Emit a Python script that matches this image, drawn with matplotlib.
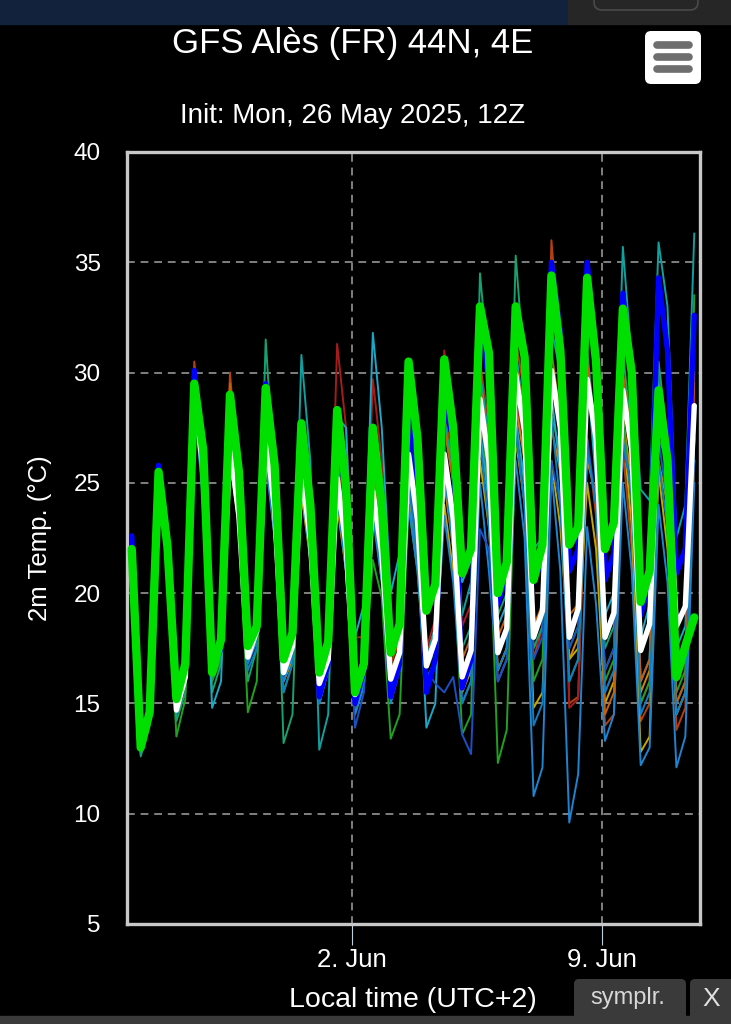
import datetime as dt
import matplotlib
matplotlib.use('Agg')
import matplotlib.pyplot as plt
import matplotlib.dates as mdates
from matplotlib.patches import FancyBboxPatch, Rectangle

plt.rcParams['font.family'] = ['Liberation Sans', 'DejaVu Sans']

# --- data: 6-hourly, first value at 26 May 20:00 local (18Z) ---
start = dt.datetime(2025, 5, 26, 20)
times = [start + dt.timedelta(hours=6 * i) for i in range(64)]

# thick lines (one row = 20h, 02h, 08h, 14h local)
green_run = [
    22.0, 13.0, 14.6, 25.5,
    22.1, 15.2, 16.8, 29.5,
    26.5, 16.4, 17.9, 29.0,
    25.5, 17.6, 18.5, 29.3,
    25.8, 17.0, 18.2, 27.7,
    24.0, 16.4, 17.8, 28.3,
    24.8, 15.5, 16.8, 27.5,
    24.0, 17.3, 18.6, 30.5,
    27.0, 19.2, 20.4, 30.6,
    27.5, 20.9, 22.0, 33.0,
    30.9, 20.0, 21.4, 33.0,
    30.7, 20.6, 22.2, 34.4,
    31.0, 22.2, 23.0, 34.3,
    30.5, 22.0, 23.2, 32.9,
    30.0, 19.6, 21.0, 29.2,
    26.0, 16.2, 17.6, 18.9,
]
ens_mean = [
    22.0, 13.3, 14.6, 25.3,
    21.9, 14.7, 16.2, 29.2,
    25.5, 16.9, 17.8, 26.7,
    23.5, 17.1, 18.3, 27.2,
    23.8, 16.4, 17.6, 25.6,
    22.4, 15.9, 17.0, 25.2,
    22.2, 15.4, 16.6, 24.6,
    21.8, 16.1, 17.3, 26.3,
    23.3, 16.7, 17.9, 26.3,
    23.4, 16.2, 17.4, 28.8,
    26.0, 17.3, 18.4, 29.9,
    27.3, 18.0, 19.2, 30.1,
    27.5, 18.0, 19.3, 29.7,
    27.0, 18.0, 19.1, 29.2,
    26.5, 17.4, 18.6, 29.0,
    26.0, 18.5, 19.4, 28.5,
]
control = [
    22.6, 13.0, 14.5, 25.8,
    22.0, 15.0, 16.5, 30.1,
    26.0, 16.5, 17.5, 29.0,
    25.0, 17.3, 18.3, 29.5,
    24.5, 16.8, 17.8, 27.0,
    23.5, 15.3, 16.8, 27.8,
    24.0, 15.0, 16.5, 27.0,
    24.0, 15.3, 16.8, 28.0,
    24.5, 15.5, 17.0, 28.6,
    27.0, 15.7, 17.0, 32.5,
    29.5, 19.5, 20.8, 33.0,
    30.5, 20.5, 21.5, 35.0,
    31.8, 21.0, 22.0, 35.0,
    31.0, 20.6, 21.8, 33.6,
    29.5, 19.0, 20.5, 34.3,
    31.0, 20.9, 22.0, 32.6,
]

# thin ensemble members
mem_rust = [
    22.2, 13.1, 14.7, 25.4,  22.6, 15.4, 16.9, 30.5,  26.8, 16.2, 17.5, 30.0,  25.0, 17.0, 18.0, 28.0,
    24.0, 16.0, 17.0, 26.5,  23.0, 15.8, 17.2, 27.0,  23.5, 15.6, 16.8, 26.0,  22.5, 16.8, 17.8, 28.0,
    25.0, 17.2, 18.5, 28.5,  25.5, 15.8, 16.8, 30.5,  27.5, 16.5, 17.5, 31.5,  29.0, 17.0, 18.5, 36.0,
    31.0, 15.0, 15.3, 27.0,  23.5, 14.0, 14.5, 26.5,  22.0, 14.2, 15.0, 30.0,  26.0, 13.8, 14.8, 29.5,
]
mem_darkred = [
    21.8, 13.4, 14.9, 25.0,  21.5, 15.5, 17.2, 29.8,  25.0, 17.0, 18.0, 28.0,  24.0, 17.5, 18.5, 28.5,
    23.5, 16.8, 18.0, 27.0,  23.0, 16.5, 17.5, 31.3,  27.5, 18.0, 18.0, 29.7,  26.0, 16.2, 17.0, 28.5,
    25.0, 17.5, 18.8, 31.0,  27.0, 18.5, 19.5, 30.0,  27.5, 16.0, 17.0, 29.0,  26.0, 17.5, 18.0, 30.0,
    28.0, 14.8, 15.2, 29.5,  26.0, 15.5, 16.5, 30.0,  26.5, 15.0, 16.0, 29.5,  26.0, 14.5, 15.5, 29.0,
]
mem_orange = [
    21.9, 13.3, 14.8, 25.2,  21.6, 14.9, 16.4, 29.0,  25.0, 16.8, 17.6, 27.0,  24.0, 17.2, 18.2, 27.0,
    23.0, 16.2, 17.3, 25.0,  22.0, 15.8, 17.0, 24.5,  21.5, 15.2, 16.5, 25.5,  22.0, 16.0, 17.2, 25.5,
    22.5, 17.0, 18.0, 25.0,  22.0, 16.5, 17.5, 28.0,  25.5, 17.5, 18.5, 28.5,  26.0, 18.0, 19.0, 27.5,
    25.5, 17.0, 18.0, 26.0,  24.5, 16.5, 17.5, 28.0,  25.0, 15.5, 16.5, 26.0,  24.0, 16.0, 17.0, 27.0,
]
mem_yellow = [
    22.1, 13.2, 14.6, 25.1,  21.7, 14.8, 16.0, 28.8,  24.8, 16.6, 17.3, 26.0,  23.0, 17.0, 18.0, 26.5,
    22.5, 16.0, 17.0, 24.5,  21.5, 15.5, 16.8, 24.0,  21.0, 15.0, 16.2, 24.0,  20.5, 15.8, 16.8, 24.5,
    21.5, 16.0, 17.0, 24.0,  21.0, 15.5, 16.5, 26.0,  23.0, 16.5, 17.5, 27.0,  24.0, 14.8, 15.5, 26.0,
    23.0, 17.0, 17.5, 25.0,  22.0, 15.0, 16.0, 27.5,  23.0, 12.8, 13.5, 25.5,  22.0, 14.5, 15.5, 26.0,
]
mem_green = [
    21.7, 12.7, 14.2, 25.0,  21.5, 13.5, 15.2, 29.0,  24.5, 16.0, 17.0, 27.5,  23.0, 14.6, 16.0, 28.0,
    23.5, 15.5, 16.8, 26.0,  22.5, 15.0, 16.5, 26.5,  21.5, 14.5, 15.8, 21.5,  19.8, 13.4, 14.5, 24.0,
    21.0, 15.5, 16.8, 27.0,  22.0, 13.6, 14.5, 29.0,  24.0, 12.3, 13.8, 27.0,  25.0, 16.0, 17.0, 28.0,
    26.5, 17.5, 18.5, 29.0,  27.0, 16.0, 17.0, 28.0,  24.0, 15.0, 16.0, 27.0,  26.0, 15.5, 16.5, 33.5,
]
mem_tealgreen = [
    22.0, 12.6, 14.0, 25.2,  21.8, 14.2, 15.5, 29.3,  25.5, 15.5, 16.8, 28.5,  24.5, 16.0, 17.5, 31.5,
    25.0, 13.2, 14.5, 26.0,  22.0, 15.5, 17.0, 26.0,  22.5, 15.0, 16.5, 26.5,  23.0, 15.5, 16.8, 27.0,
    23.5, 16.5, 17.5, 27.5,  26.0, 17.5, 18.5, 34.5,  30.0, 19.0, 20.0, 35.3,  30.0, 17.5, 18.5, 30.0,
    27.0, 16.0, 17.0, 31.0,  27.0, 17.5, 18.5, 31.0,  27.0, 16.0, 17.0, 30.5,  27.0, 15.0, 16.0, 31.0,
]
mem_teal = [
    22.3, 12.8, 14.3, 25.6,  22.3, 14.5, 16.0, 29.5,  26.0, 16.5, 17.5, 29.0,  25.0, 17.4, 18.6, 29.0,
    26.5, 16.0, 17.2, 30.8,  26.0, 12.9, 14.5, 27.5,  24.0, 16.0, 17.0, 27.0,  23.0, 16.5, 17.5, 27.5,
    24.0, 17.0, 18.5, 28.0,  25.0, 19.0, 20.5, 30.0,  27.0, 19.5, 21.0, 31.0,  28.0, 22.0, 22.5, 32.0,
    30.0, 21.0, 22.0, 33.0,  31.0, 22.0, 22.5, 35.7,  30.5, 24.7, 24.2, 35.9,  33.0, 22.5, 24.0, 36.3,
]
mem_cyan = [
    22.2, 13.0, 14.5, 25.3,  22.0, 14.8, 16.2, 29.0,  24.0, 14.8, 16.0, 27.0,  24.5, 17.0, 18.0, 28.0,
    23.0, 16.5, 17.5, 26.0,  23.5, 16.0, 17.5, 28.0,  27.5, 18.0, 19.5, 31.8,  27.5, 20.0, 21.8, 26.0,
    22.0, 13.9, 15.0, 26.0,  22.5, 20.5, 21.5, 27.5,  24.0, 18.5, 19.5, 28.0,  25.0, 18.0, 19.5, 29.0,
    25.5, 18.5, 19.0, 30.0,  25.0, 19.0, 20.0, 29.0,  26.0, 18.0, 19.5, 29.5,  25.5, 17.5, 18.5, 28.0,
]
mem_lightblue = [
    21.9, 13.1, 14.6, 25.0,  21.6, 14.6, 16.0, 28.5,  24.5, 16.5, 17.3, 26.5,  23.0, 16.8, 17.8, 26.0,
    22.5, 16.0, 17.2, 25.0,  21.5, 15.0, 16.5, 24.5,  21.0, 14.5, 15.8, 23.5,  20.5, 15.0, 16.5, 24.0,
    21.0, 16.0, 17.0, 23.5,  20.5, 15.0, 16.0, 25.0,  21.0, 16.0, 17.0, 26.0,  22.5, 10.8, 12.1, 25.5,
    21.0, 9.6, 11.8, 23.0,   19.5, 13.3, 14.5, 25.0,  21.0, 12.2, 13.0, 24.0,  20.5, 12.1, 13.5, 25.0,
]
mem_darkblue = [
    22.0, 13.2, 14.6, 25.2,  21.8, 14.8, 16.2, 29.0,  25.0, 16.8, 17.6, 26.5,  23.5, 17.0, 18.2, 27.0,
    23.5, 16.2, 17.4, 25.5,  22.0, 15.5, 16.8, 25.0,  22.0, 13.9, 15.5, 24.0,  21.5, 16.0, 17.0, 25.5,
    22.0, 16.5, 15.9, 15.5,  16.2, 13.6, 12.7, 22.9,  22.0, 16.0, 17.0, 27.5,  24.0, 17.0, 18.0, 26.0,
    24.0, 17.5, 18.5, 27.0,  24.0, 16.5, 17.5, 26.5,  25.0, 16.0, 17.0, 27.0,  24.0, 16.5, 17.5, 26.0,
]
mem_burnt = [
    22.1, 13.0, 14.5, 25.5,  22.2, 15.2, 16.6, 29.6,  26.0, 17.0, 17.8, 29.5,  24.5, 17.3, 18.4, 28.0,
    24.0, 17.0, 18.0, 26.0,  23.0, 16.0, 17.2, 26.5,  23.0, 15.5, 17.0, 27.0,  23.0, 16.5, 17.5, 27.0,
    24.0, 17.0, 18.0, 27.5,  25.0, 17.0, 18.0, 29.5,  26.5, 18.0, 19.0, 30.5,  28.0, 18.5, 19.5, 31.0,
    28.0, 19.0, 19.5, 30.5,  27.0, 14.5, 15.5, 30.0,  27.0, 16.0, 17.0, 28.5,  26.0, 15.0, 16.0, 30.0,
]
mem_blue2 = [
    22.0, 13.0, 14.4, 25.1,  21.7, 14.6, 16.0, 28.8,  24.8, 16.4, 17.2, 26.0,  23.2, 16.5, 17.5, 26.5,
    22.8, 15.5, 16.8, 25.0,  21.5, 15.0, 16.5, 24.5,  21.0, 15.0, 16.0, 24.5,  21.0, 15.5, 16.5, 25.0,
    21.5, 16.0, 17.0, 25.5,  22.0, 15.0, 16.0, 27.0,  23.0, 16.5, 17.5, 27.5,  24.0, 14.0, 15.0, 28.0,
    24.0, 16.0, 17.0, 26.5,  24.0, 15.5, 16.5, 27.0,  24.5, 14.5, 15.5, 26.0,  23.0, 14.5, 15.5, 27.0,
]

members = [mem_rust, mem_darkred, mem_orange, mem_yellow, mem_green, mem_tealgreen,
           mem_teal, mem_cyan, mem_lightblue, mem_darkblue, mem_burnt, mem_blue2]
member_colors = ['#b5400f', '#a51c1c', '#d4820a', '#c8a600', '#21a121', '#17a070',
                 '#11a0a0', '#1ba8c6', '#1f84cf', '#1a50c2', '#c2600e', '#0f7fc0']

xticks = [dt.datetime(2025, 6, 2), dt.datetime(2025, 6, 9)]
yticks = [5, 10, 15, 20, 25, 30, 35, 40]

W, H = 731, 1024
fig = plt.figure(figsize=(W / 100, H / 100), dpi=100, facecolor='black')

ax = fig.add_axes([127 / W, 1 - 924 / H, 573 / W, 772 / H])
ax.set_facecolor('black')

for vals, col in zip(members, member_colors):
    ax.plot(times, vals, color=col, lw=1.4, zorder=2)
ax.plot(times, control, color='#0000ff', lw=3.8, zorder=3,
        solid_joinstyle='round', solid_capstyle='round')
ax.plot(times, ens_mean, color='white', lw=3.9, zorder=4,
        solid_joinstyle='round', solid_capstyle='round')
ax.plot(times, green_run, color='#00e000', lw=6.0, zorder=5,
        solid_joinstyle='round', solid_capstyle='round')

ax.set_xlim(dt.datetime(2025, 5, 26, 16, 48), dt.datetime(2025, 6, 11, 17, 51))
ax.set_ylim(5, 40)
ax.set_xticks(xticks)
ax.xaxis.set_major_formatter(mdates.DateFormatter('%-d. %b'))
ax.set_yticks(yticks)
ax.grid(True, color='#808080', linestyle=(0, (4, 3)), linewidth=1.4, zorder=1)
ax.set_axisbelow(True)

for s in ax.spines.values():
    s.set_color('#c8c8c8')
    s.set_linewidth(2.4)
ax.tick_params(axis='x', colors='white', labelsize=18.5, length=15, width=0.8,
               pad=2, color='#c0cfe0')
ax.tick_params(axis='y', colors='white', labelsize=17.5, length=0, pad=19)
ax.set_ylabel('2m Temp. (°C)', color='white', fontsize=18.5)
ax.yaxis.set_label_coords(-(127 - 52) / 573, 0.5)

fig.text(353 / W, 1 - 44 / H, 'GFS Alès (FR) 44N, 4E', color='white',
         fontsize=25, ha='center', va='center')
fig.text(353 / W, 1 - 116 / H, 'Init: Mon, 26 May 2025, 12Z', color='white',
         fontsize=20, ha='center', va='center')
fig.text(413 / W, 1 - 1000 / H, 'Local time (UTC+2)', color='white',
         fontsize=20.5, ha='center', va='center')

# page chrome in pixel coordinates
ov = fig.add_axes([0, 0, 1, 1], zorder=10)
ov.set_xlim(0, W)
ov.set_ylim(H, 0)
ov.axis('off')

ov.add_patch(Rectangle((0, 0), 568, 24, color='#13223c'))
ov.add_patch(Rectangle((568, 0), W - 568, 24, color='#262626'))
ov.add_patch(FancyBboxPatch((594, -20), 104, 30, boxstyle='round,pad=0,rounding_size=8',
                            fc='#262626', ec='#4a4a4a', lw=1.2))

ov.add_patch(FancyBboxPatch((645, 31), 56, 53, boxstyle='round,pad=0,rounding_size=6',
                            fc='white', ec='none'))
for yb in [45, 57, 69]:
    ov.plot([657, 689], [yb, yb], color='#6e6e6e', lw=5.5, solid_capstyle='round')

ov.add_patch(Rectangle((0, 1016), W, 8, color='#3a3a3a'))
ov.add_patch(FancyBboxPatch((574, 979), 112, 45, boxstyle='round,pad=0,rounding_size=5',
                            fc='#3a3a3a', ec='none'))
ov.add_patch(FancyBboxPatch((690, 979), 45, 45, boxstyle='round,pad=0,rounding_size=5',
                            fc='#3a3a3a', ec='none'))
ov.text(628, 998, 'symplr.', color='#d8d8d8', fontsize=17, ha='center', va='center')
ov.text(711, 999, 'X', color='#e0e0e0', fontsize=19, ha='center', va='center',
        fontweight='light')

fig.savefig('out.png', dpi=100, facecolor='black')
